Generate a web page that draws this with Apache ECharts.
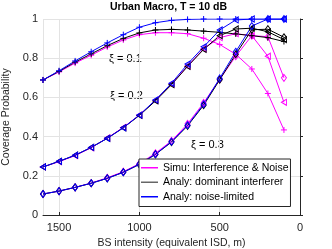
<!DOCTYPE html>
<html><head><meta charset="utf-8">
<script src="https://cdn.jsdelivr.net/npm/echarts@6/dist/echarts.min.js"></script>
<style>html,body{margin:0;padding:0;background:#fff}#c{width:332px;height:249px}</style>
</head><body><div id="c"></div>
<script>
const isd = [1600,1500,1400,1300,1200,1100,1000,900,800,700,600,500,400,300,200,100];
const xTickLabels = [1500,1000,500,0];
const yTickLabels = [0,0.2,0.4,0.6,0.8,1];
// xi = 0.1
const noise01 = [0.689,0.736,0.786,0.833,0.878,0.920,0.958,0.981,0.993,0.998,1,1,1,1,1,1];
const dom01   = [0.689,0.733,0.780,0.822,0.864,0.901,0.929,0.944,0.947,0.944,0.938,0.932,0.924,0.915,0.905,0.885];
const simu01  = [0.689,0.730,0.775,0.815,0.857,0.893,0.920,0.930,0.930,0.925,0.902,0.870,0.820,0.745,0.620,0.434];
// xi = 0.2
const noise02 = [0.245,0.274,0.305,0.345,0.391,0.445,0.510,0.587,0.672,0.770,0.858,0.944,0.995,1,1,1];
const dom02   = [0.245,0.274,0.305,0.345,0.391,0.445,0.508,0.582,0.665,0.758,0.845,0.915,0.949,0.953,0.935,0.895];
const simu02  = [0.245,0.272,0.303,0.343,0.393,0.447,0.510,0.585,0.668,0.760,0.848,0.905,0.925,0.915,0.810,0.575];
// xi = 0.3
const noise03 = [0.107,0.122,0.141,0.162,0.187,0.218,0.259,0.310,0.374,0.458,0.565,0.697,0.833,0.964,1,1];
const dom03   = [0.107,0.122,0.141,0.162,0.187,0.218,0.258,0.309,0.372,0.455,0.560,0.690,0.820,0.945,0.948,0.907];
const simu03  = [0.107,0.122,0.141,0.163,0.190,0.221,0.262,0.315,0.378,0.465,0.572,0.692,0.810,0.915,0.910,0.700];
const legendNames = ['Simu: Interference & Noise','Analy: dominant interferer','Analy: noise-limited'];
const xiLabels = ['\u03be = 0.1','\u03be = 0.2','\u03be = 0.3'];

const MAG = '#ff00ff', BLK = '#000000', BLU = '#0000ff';
const PLUS = 'path://M5,0L5,10M0,5L10,5';
const LEFT = 'path://M0,5L10,0L10,10Z';
const DIAM = 'path://M5,0L10,6L5,12L0,6Z';
const font = 'Liberation Sans, Arial, Helvetica, sans-serif';

function mk(name, arr, color, sym, size) {
  return {
    name: name, type: 'line', data: isd.map((x, i) => [x, arr[i]]),
    symbol: sym, symbolSize: size,
    lineStyle: { color: color, width: 1 },
    itemStyle: { color: 'rgba(0,0,0,0)', borderColor: color, borderWidth: 1 },
    emphasis: { disabled: true }, animation: false, z: 3
  };
}
const series = [
  mk('s01', simu01, MAG, PLUS, 6), mk('s02', simu02, MAG, LEFT, [5,6]), mk('s03', simu03, MAG, DIAM, [5,7]),
  mk('d01', dom01, BLK, PLUS, 6), mk('d02', dom02, BLK, LEFT, [5,6]), mk('d03', dom03, BLK, DIAM, [5,7]),
  mk('n01', noise01, BLU, PLUS, 6), mk('n02', noise02, BLU, LEFT, [5,6]), mk('n03', noise03, BLU, DIAM, [5,7])
];
const legendColors = [MAG, '#666666', BLU];
legendNames.forEach((n, i) => series.push({
  name: n, type: 'line', data: [], itemStyle: { color: legendColors[i] }, lineStyle: { color: legendColors[i] }
}));

const chart = echarts.init(document.getElementById('c'), null, { renderer: 'canvas' });
chart.setOption({
  animation: false,
  backgroundColor: '#fff',
  title: { text: 'Urban Macro, T = 10 dB', left: 110, top: 2, padding: 0,
    textStyle: { fontSize: 10.5, fontWeight: 'bold', color: '#000', fontFamily: font } },
  grid: { left: 43, right: 32, top: 19, bottom: 34, containLabel: false, outerBoundsMode: 'none' },
  xAxis: {
    type: 'value', min: 0, max: 1600, interval: 500, inverse: true,
    name: 'BS intensity (equivalent ISD, m)', nameLocation: 'middle', nameGap: 20,
    nameTextStyle: { fontSize: 10.5, color: '#262626', fontFamily: font },
    axisLine: { show: true, lineStyle: { color: '#262626' } },
    axisTick: { show: true, inside: true, length: 3, lineStyle: { color: '#262626' } },
    axisLabel: { fontSize: 11, color: '#262626', fontFamily: font, margin: 7, showMaxLabel: false,
      formatter: v => xTickLabels.includes(v) ? String(v) : '' },
    splitLine: { show: true, lineStyle: { color: '#e3e3e3' } }
  },
  yAxis: {
    type: 'value', min: 0, max: 1, interval: 0.2,
    name: 'Coverage Probability', nameLocation: 'middle', nameGap: 18,
    nameTextStyle: { fontSize: 10.5, color: '#262626', fontFamily: font },
    axisLine: { show: true, lineStyle: { color: '#262626' } },
    axisTick: { show: true, inside: true, length: 3, lineStyle: { color: '#262626' } },
    axisLabel: { fontSize: 11, color: '#262626', fontFamily: font, margin: 5,
      formatter: v => { const t = yTickLabels.find(u => Math.abs(u - v) < 1e-9); return t === undefined ? '' : String(t); } },
    splitLine: { show: true, lineStyle: { color: '#e3e3e3' } }
  },
  legend: {
    data: legendNames, orient: 'vertical', left: 139, top: 159,
    backgroundColor: '#fff', borderColor: '#262626', borderWidth: 1, borderRadius: 0,
    padding: [2, 2, 3, 2], itemGap: 1, itemWidth: 17, itemHeight: 1.5, icon: 'rect',
    textStyle: { fontSize: 10.5, color: '#000', fontFamily: font, lineHeight: 13.5 }
  },
  graphic: [
    { type: 'text', left: 109, top: 53, style: { text: xiLabels[0], font: '11px ' + font, fill: '#000' } },
    { type: 'text', left: 110, top: 90, style: { text: xiLabels[1], font: '11px ' + font, fill: '#000' } },
    { type: 'text', left: 191, top: 139, style: { text: xiLabels[2], font: '11px ' + font, fill: '#000' } }
  ],
  series: series
});
</script></body></html>
